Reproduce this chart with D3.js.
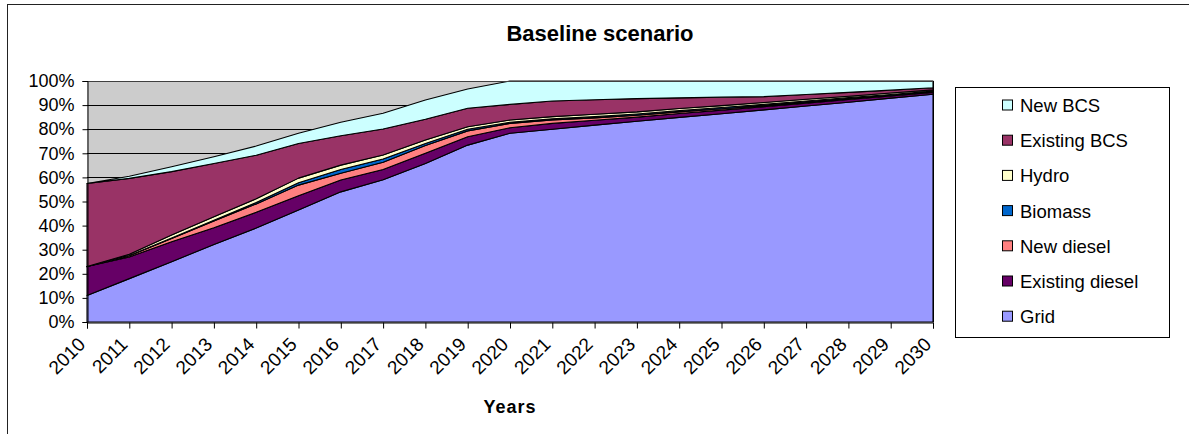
<!DOCTYPE html>
<html>
<head>
<meta charset="utf-8">
<script src="https://cdn.jsdelivr.net/npm/d3@7/dist/d3.min.js"></script>
<style>
  html, body { margin: 0; padding: 0; background: #fff; }
  svg { display: block; font-family: "Liberation Sans", Arial, sans-serif; }
</style>
</head>
<body>
<svg id="chart" width="1189" height="434"></svg>
<script>
// Electricity supply shares (% of demand), baseline scenario
const years = [2010, 2011, 2012, 2013, 2014, 2015, 2016, 2017, 2018, 2019, 2020,
               2021, 2022, 2023, 2024, 2025, 2026, 2027, 2028, 2029, 2030];

const grid          = [11.0, 18.0, 25.0, 32.2, 39.0, 46.5, 54.0, 59.0, 65.8, 73.4, 78.3,
                       80.0, 81.7, 83.3, 84.9, 86.4, 88.0, 89.6, 91.2, 92.9, 94.5];
const existingDiesel = [12.0, 9.0, 8.3, 6.9, 6.5, 5.9, 4.9, 4.3, 4.2, 3.5, 2.3,
                       2.4, 2.0, 1.7, 1.6, 1.5, 1.3, 1.2, 1.1, 0.9, 0.7];
const newDiesel     = [0.0, 0.5, 1.4, 2.8, 3.5, 4.4, 2.8, 3.0, 3.2, 2.4, 1.8,
                       1.4, 1.0, 0.8, 0.7, 0.6, 0.5, 0.5, 0.4, 0.3, 0.3];
const biomass       = [0.0, 0.1, 0.2, 0.3, 0.6, 1.0, 1.6, 1.3, 0.9, 0.7, 0.5,
                       0.5, 0.5, 0.5, 0.5, 0.5, 0.5, 0.4, 0.4, 0.3, 0.3];
const hydro         = [0.0, 0.5, 1.2, 1.5, 1.5, 1.9, 1.8, 1.7, 1.4, 1.0, 0.9,
                       0.9, 1.0, 0.9, 0.9, 0.8, 0.8, 0.7, 0.6, 0.6, 0.5];
const existingBCS   = [34.5, 31.5, 26.3, 22.1, 18.1, 14.4, 12.2, 10.8, 8.6, 7.7, 6.5,
                       6.5, 6.0, 5.5, 4.4, 3.5, 2.4, 2.0, 1.6, 1.2, 0.9];
const newBCS        = [0.0, 0.9, 2.0, 2.8, 3.8, 4.2, 5.6, 6.5, 8.0, 8.0, 9.7,
                       8.3, 7.8, 7.3, 7.0, 6.7, 6.5, 5.6, 4.7, 3.8, 2.8];

// stacking order, bottom to top
const seriesNames  = ["Grid", "Existing diesel", "New diesel", "Biomass", "Hydro", "Existing BCS", "New BCS"];
const seriesValues = [grid, existingDiesel, newDiesel, biomass, hydro, existingBCS, newBCS];
const seriesColors = ["#9999FF", "#660066", "#FF8080", "#0066CC", "#FFFFCC", "#993366", "#CCFFFF"];

const yTicks = [0, 10, 20, 30, 40, 50, 60, 70, 80, 90, 100];

const titleText = "Baseline scenario";
const xAxisTitle = "Years";

// ---- layout ----
const svg = d3.select("#chart");
const plot = { left: 87, right: 933, top: 81, bottom: 322 };

const x = d3.scaleLinear().domain([years[0], years[years.length - 1]]).range([plot.left, plot.right]);
const y = d3.scaleLinear().domain([0, 100]).range([plot.bottom, plot.top]);

// outer chart frame
svg.append("rect")
  .attr("x", 7.5).attr("y", 4.5)
  .attr("width", 1300).attr("height", 600)
  .attr("fill", "#fff").attr("stroke", "#222").attr("stroke-width", 1);

// title
svg.append("text")
  .attr("x", 600).attr("y", 41)
  .attr("text-anchor", "middle")
  .attr("font-weight", "bold").attr("font-size", 22)
  .text(titleText);

// plot background
svg.append("rect")
  .attr("x", plot.left).attr("y", plot.top)
  .attr("width", plot.right - plot.left).attr("height", plot.bottom - plot.top)
  .attr("fill", "#CCCCCC");

// gridlines
svg.append("g")
  .selectAll("line")
  .data(yTicks.filter(d => d > 0))
  .join("line")
  .attr("x1", plot.left).attr("x2", plot.right)
  .attr("y1", d => Math.round(y(d)) + 0.5).attr("y2", d => Math.round(y(d)) + 0.5)
  .attr("stroke", "#000").attr("stroke-width", 1);

// stacked areas
const table = years.map((yr, i) => {
  const row = { year: yr };
  seriesNames.forEach((n, k) => { row[n] = seriesValues[k][i]; });
  return row;
});
const stacked = d3.stack().keys(seriesNames)(table);

const area = d3.area()
  .x(d => x(d.data.year))
  .y0(d => y(d[0]))
  .y1(d => y(d[1]));

svg.append("g")
  .selectAll("path")
  .data(stacked)
  .join("path")
  .attr("d", area)
  .attr("fill", (d, i) => seriesColors[i])
  .attr("stroke", "#000")
  .attr("stroke-width", 1.1)
  .attr("stroke-linejoin", "round");

// top border of plot area and right edge
svg.append("line")
  .attr("x1", plot.left).attr("x2", plot.right)
  .attr("y1", plot.top + 0.5).attr("y2", plot.top + 0.5)
  .attr("stroke", "#404040");
svg.append("line")
  .attr("x1", plot.right + 0.5).attr("x2", plot.right + 0.5)
  .attr("y1", plot.top).attr("y2", plot.bottom)
  .attr("stroke", "#000");

// y axis
const yAxis = svg.append("g")
  .attr("transform", `translate(${plot.left + 0.5},0)`)
  .call(d3.axisLeft(y).tickValues(yTicks).tickSize(5).tickPadding(8).tickFormat(d => d + "%"));
yAxis.select(".domain").attr("stroke", "#000");
yAxis.selectAll("line").attr("stroke", "#000");
yAxis.selectAll("text")
  .attr("font-size", 18).attr("fill", "#000")
  .attr("font-family", "Liberation Sans, Arial, sans-serif");

// x axis, labels slanted at 45 degrees ending just below each tick
const xAxis = svg.append("g")
  .attr("transform", `translate(0,${plot.bottom + 0.5})`)
  .call(d3.axisBottom(x).tickValues(years).tickSize(6).tickFormat(d3.format("d")));
xAxis.select(".domain").attr("stroke", "#000");
xAxis.selectAll("line").attr("stroke", "#000");
xAxis.selectAll("text")
  .attr("font-size", 19).attr("fill", "#000")
  .attr("font-family", "Liberation Sans, Arial, sans-serif")
  .attr("text-anchor", "end")
  .attr("x", 0).attr("y", 0).attr("dy", 0)
  .attr("transform", "translate(-1,23) rotate(-45)");

// axis title
svg.append("text")
  .attr("x", 510).attr("y", 413)
  .attr("text-anchor", "middle")
  .attr("font-weight", "bold").attr("font-size", 18)
  .attr("letter-spacing", 1)
  .text(xAxisTitle);

// legend
const legend = svg.append("g");
legend.append("rect")
  .attr("x", 955.5).attr("y", 87.5)
  .attr("width", 214).attr("height", 250)
  .attr("fill", "#fff").attr("stroke", "#000");

const legendOrder = seriesNames.map((n, i) => i).reverse();
const items = legend.selectAll("g.item")
  .data(legendOrder)
  .join("g")
  .attr("class", "item")
  .attr("transform", (d, j) => `translate(1002,${105.5 + j * 35.2})`);
items.append("rect")
  .attr("x", 0.5).attr("y", -5.5)
  .attr("width", 10).attr("height", 10)
  .attr("fill", d => seriesColors[d]).attr("stroke", "#000");
items.append("text")
  .attr("x", 18).attr("y", 0).attr("dy", "0.35em")
  .attr("font-size", 18.5)
  .text(d => seriesNames[d]);
</script>
</body>
</html>
